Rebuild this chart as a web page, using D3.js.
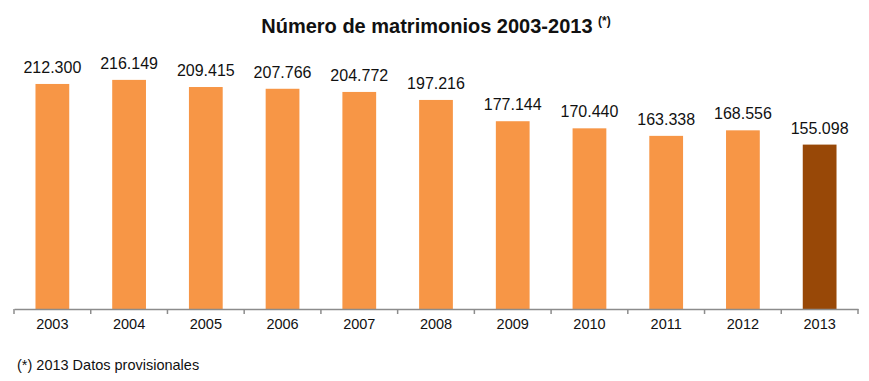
<!DOCTYPE html>
<html>
<head>
<meta charset="utf-8">
<script src="https://cdn.jsdelivr.net/npm/d3@7"></script>
<style>
  body { margin: 0; background: #fff; }
  text { font-family: 'Liberation Sans', Arial, sans-serif; }
</style>
</head>
<body>
<div id="chart"></div>
<script>
const years = ['2003', '2004', '2005', '2006', '2007', '2008', '2009', '2010', '2011', '2012', '2013']
const marriages = [212300, 216149, 209415, 207766, 204772, 197216, 177144, 170440, 163338, 168556, 155098]
const provisional = ['2013']

const data = years.map((y, i) => ({ year: y, value: marriages[i] }))

const W = 869
const H = 381
const margin = { top: 44, left: 14, right: 11, bottom: 72 }

const svg = d3.select('#chart')
  .append('svg')
  .attr('width', W)
  .attr('height', H)

const xScale = d3.scaleBand()
  .domain(years)
  .range([margin.left, W - margin.right])
  .paddingInner(0.56)
  .paddingOuter(0.28)

const yScale = d3.scaleLinear()
  .domain([0, 250000])
  .range([H - margin.bottom, margin.top])

const fmt = (v) => d3.format(',')(v).replace(/,/g, '.')

// bars
svg.append('g')
  .selectAll('rect')
  .data(data)
  .join('rect')
  .attr('x', (d) => xScale(d.year))
  .attr('y', (d) => yScale(d.value))
  .attr('width', xScale.bandwidth())
  .attr('height', (d) => yScale(0) - yScale(d.value))
  .attr('fill', (d) => provisional.includes(d.year) ? '#984807' : '#F79646')

// value labels
svg.append('g')
  .selectAll('text')
  .data(data)
  .join('text')
  .attr('x', (d) => xScale(d.year) + xScale.bandwidth() / 2)
  .attr('y', (d) => yScale(d.value) - 11)
  .attr('text-anchor', 'middle')
  .attr('font-size', 16)
  .attr('fill', '#111')
  .text((d) => fmt(d.value))

// x axis
const base = yScale(0)
const axis = svg.append('g')
  .attr('transform', `translate(0, ${base})`)
  .call(d3.axisBottom(xScale).tickSize(0).tickPadding(10))
axis.select('.domain').attr('stroke', '#8c8c8c').attr('stroke-width', 1.5)
axis.selectAll('.tick text')
  .attr('font-size', 14.5)
  .attr('fill', '#111')
  .style('font-family', "'Liberation Sans', Arial, sans-serif")

// boundary ticks between categories
const step = xScale.step()
const bounds = d3.range(years.length + 1).map((i) => xScale.range()[0] + i * step)
svg.append('g')
  .selectAll('line')
  .data(bounds)
  .join('line')
  .attr('x1', (d) => d)
  .attr('x2', (d) => d)
  .attr('y1', base)
  .attr('y2', base + 5)
  .attr('stroke', '#8c8c8c')
  .attr('stroke-width', 1.5)

// title
const title = svg.append('text')
  .attr('x', 436)
  .attr('y', 33)
  .attr('text-anchor', 'middle')
  .attr('font-size', 20)
  .attr('font-weight', 'bold')
  .attr('fill', '#111')
title.append('tspan').text('Número de matrimonios 2003-2013 ')
title.append('tspan')
  .attr('font-size', 12)
  .attr('dy', -8)
  .text('(*)')

// footnote
svg.append('text')
  .attr('x', 17)
  .attr('y', 370)
  .attr('font-size', 14.5)
  .attr('fill', '#111')
  .text('(*) 2013 Datos provisionales')
</script>
</body>
</html>
